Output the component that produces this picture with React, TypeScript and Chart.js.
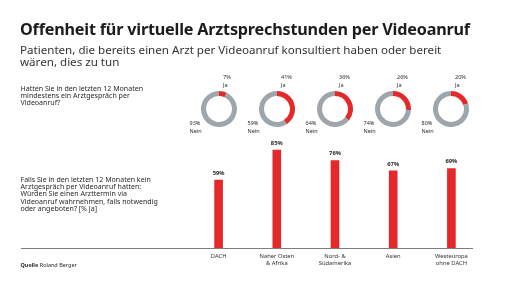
import React, { useEffect, useRef } from "react";
import { Chart, registerables } from "chart.js";

Chart.register(...registerables);

// Share answering "Ja" in each region
const regions = ["DACH", "Naher Osten & Afrika", "Nord- & Südamerika", "Asien", "Westeuropa ohne DACH"];
const regionTickLabels: (string | string[])[] = ["DACH", ["Naher Osten", "& Afrika"], ["Nord- &", "Südamerika"], "Asien", ["Westeuropa", "ohne DACH"]];
const hadVideoCallJa = [7, 41, 36, 26, 20];
const hadVideoCallNein = [93, 59, 64, 74, 80];
const wouldUseVideoCall = [59, 85, 76, 67, 69];

const RED = "#e4292b";
const GREY = "#9ea6ab";
const TEXT = "#2a2a2a";
const FONT = "'Noto Sans', sans-serif";

// horizontal positions shared by rings and bars
const CENTERS = [218.5, 276.5, 334.5, 392.5, 450.5];
const RING_Y = 109;
const RING_R = 18;

function Ring({ ja, nein }: { ja: number; nein: number }) {
  const ref = useRef<HTMLCanvasElement>(null);
  useEffect(() => {
    const chart = new Chart(ref.current!, {
      type: "doughnut",
      data: {
        labels: ["Ja", "Nein"],
        datasets: [{ data: [ja, nein], backgroundColor: [RED, GREY], borderWidth: 0 }],
      },
      options: {
        animation: false,
        responsive: false,
        cutout: "72%",
        layout: { padding: 0 },
        plugins: { legend: { display: false }, tooltip: { enabled: false } },
      },
    });
    return () => chart.destroy();
  }, [ja, nein]);
  return <canvas ref={ref} width={RING_R * 2} height={RING_R * 2} />;
}

const valueLabels = {
  id: "valueLabels",
  afterDatasetsDraw(chart: any) {
    const ctx = chart.ctx;
    const meta = chart.getDatasetMeta(0);
    ctx.save();
    ctx.font = `bold 5.8px ${FONT}`;
    ctx.fillStyle = TEXT;
    ctx.textAlign = "center";
    ctx.textBaseline = "middle";
    meta.data.forEach((bar: any, i: number) => {
      ctx.fillText(`${chart.data.datasets[0].data[i]}%`, bar.x, bar.y - 7);
    });
    ctx.restore();
  },
};

const baseline = {
  id: "baseline",
  afterDatasetsDraw(chart: any) {
    const ctx = chart.ctx;
    const y = Math.round(chart.chartArea.bottom) + 0.5;
    ctx.save();
    ctx.strokeStyle = "#7d7d7d";
    ctx.lineWidth = 1;
    ctx.beginPath();
    ctx.moveTo(21, y);
    ctx.lineTo(473, y);
    ctx.stroke();
    ctx.restore();
  },
};

function Bars() {
  const ref = useRef<HTMLCanvasElement>(null);
  useEffect(() => {
    const chart = new Chart(ref.current!, {
      type: "bar",
      data: {
        labels: regionTickLabels as any,
        datasets: [{ data: wouldUseVideoCall, backgroundColor: RED, barThickness: 8 }],
      },
      options: {
        animation: false,
        responsive: false,
        layout: { padding: { top: 132.8, left: 189.5, right: 31.5, bottom: 0 } },
        plugins: { legend: { display: false }, tooltip: { enabled: false } },
        scales: {
          y: { display: false, min: 0, max: 100 },
          x: {
            grid: { display: false, drawTicks: false },
            border: { display: false },
            ticks: {
              padding: 5,
              color: "#333",
              font: { family: FONT, size: 5.8, lineHeight: 1.15 },
              maxRotation: 0,
              autoSkip: false,
            },
            afterFit(scale: any) {
              scale.height = 288 - 248.3;
            },
          },
        },
      },
      plugins: [valueLabels, baseline],
    });
    return () => chart.destroy();
  }, []);
  return <canvas ref={ref} width={512} height={288} style={{ position: "absolute", left: 0, top: 0 }} />;
}

const abs = (left: number, top: number, extra: React.CSSProperties = {}): React.CSSProperties => ({
  position: "absolute",
  left,
  top,
  whiteSpace: "nowrap",
  ...extra,
});

export default function App() {
  const small: React.CSSProperties = { fontFamily: FONT, fontSize: 7.05, lineHeight: "7.3px", color: TEXT };
  const tiny: React.CSSProperties = { fontFamily: FONT, fontSize: 5.5, lineHeight: "7.8px", color: TEXT };
  return (
    <div style={{ position: "fixed", left: 0, top: 0, width: 512, height: 288, background: "#fff", overflow: "hidden" }}>
      <Bars />
      <div style={abs(20, 17, { fontFamily: FONT, fontWeight: 700, fontSize: 16.2, lineHeight: "24px", color: "#1c1c1c", letterSpacing: -0.2 })}>
        Offenheit für virtuelle Arztsprechstunden per Videoanruf
      </div>
      <div style={abs(20, 44, { fontFamily: FONT, fontSize: 11.6, lineHeight: "11.7px", color: "#333" })}>
        Patienten, die bereits einen Arzt per Videoanruf konsultiert haben oder bereit
        <br />
        wären, dies zu tun
      </div>
      <div style={abs(20.5, 84.6, small)}>
        Hatten Sie in den letzten 12 Monaten
        <br />
        mindestens ein Arztgespräch per
        <br />
        Videoanruf?
      </div>
      <div style={abs(20.5, 175.6, { ...small, lineHeight: "7.4px" })}>
        Falls Sie in den letzten 12 Monaten kein
        <br />
        Arztgespräch per Videoanruf hatten:
        <br />
        Würden Sie einen Arzttermin via
        <br />
        Videoanruf wahrnehmen, falls notwendig
        <br />
        oder angeboten? [% Ja]
      </div>
      <div style={abs(20.5, 262, { ...small, fontSize: 5.5 })}>
        <b>Quelle</b> Roland Berger
      </div>
      {regions.map((r, i) => (
        <React.Fragment key={r}>
          <div style={abs(CENTERS[i] - RING_R, RING_Y - RING_R, { width: RING_R * 2, height: RING_R * 2 })}>
            <Ring ja={hadVideoCallJa[i]} nein={hadVideoCallNein[i]} />
          </div>
          <div style={abs(CENTERS[i] + 4.5, 74.2, tiny)}>
            {hadVideoCallJa[i]}%
            <br />
            Ja
          </div>
          <div style={abs(CENTERS[i] - 29, 120, tiny)}>
            {hadVideoCallNein[i]}%
            <br />
            Nein
          </div>
        </React.Fragment>
      ))}
    </div>
  );
}
